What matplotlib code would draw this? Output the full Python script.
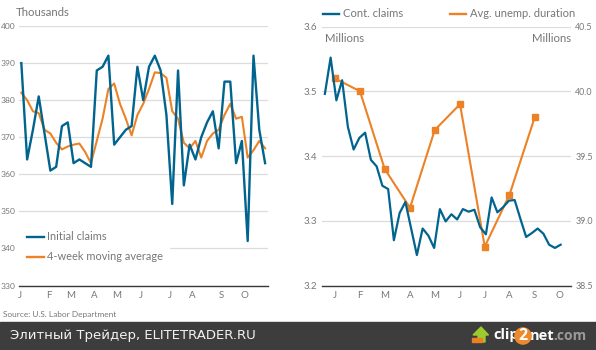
import matplotlib
matplotlib.use('Agg')
import matplotlib.pyplot as plt
from matplotlib.patches import Polygon, Rectangle

W, H = 596, 350

# left panel, weekly
initial_claims = [390, 364, 372, 381, 371, 361, 362, 373, 374, 363, 364, 363, 362, 388, 389,
                  392, 368, 370, 372, 373, 389, 380, 389, 392, 388, 376, 352, 388, 357, 368,
                  364, 370, 374, 377, 367, 385, 385, 363, 369, 342, 392, 372, 363]
moving_avg = [382, 380, 377, 376.5, 372, 371, 368.5, 366.7, 367.5, 368, 368.3, 366, 363, 369, 375,
              383, 384.5, 379, 375, 370.5, 376, 379, 383, 387.5, 387.3, 386, 377, 375, 368.5, 367,
              369, 364.5, 369, 371, 372, 376, 379, 375, 375.5, 364.5, 366.5, 369, 367]
left_yticks = [330, 340, 350, 360, 370, 380, 390, 400]
left_month_pos = [-0.3, 4.7, 8.5, 12.6, 16.5, 20.6, 25.6, 29.5, 34.5, 38.5]
left_months = ['J', 'F', 'M', 'A', 'M', 'J', 'J', 'A', 'S', 'O']

# right panel
cont_claims = [3.496, 3.552, 3.486, 3.517, 3.445, 3.41, 3.428, 3.436, 3.394, 3.384, 3.354,
               3.349, 3.27, 3.312, 3.329, 3.288, 3.247, 3.288, 3.277, 3.258, 3.318, 3.299,
               3.31, 3.302, 3.318, 3.314, 3.317, 3.29, 3.279, 3.336, 3.313, 3.321, 3.331,
               3.332, 3.303, 3.275, 3.281, 3.288, 3.28, 3.263, 3.258, 3.263]
duration = [40.1, 40.0, 39.4, 39.1, 39.7, 39.9, 38.8, 39.2, 39.8]
right_month_pos = [1.7, 6.1, 10.4, 14.8, 19.1, 23.5, 27.8, 32.1, 36.5, 40.8]
right_months = ['J', 'F', 'M', 'A', 'M', 'J', 'J', 'A', 'S', 'O']
cont_yticks = [3.2, 3.3, 3.4, 3.5, 3.6]
dur_yticks = [38.5, 39.0, 39.5, 40.0, 40.5]

BLUE = '#00648f'
ORANGE = '#ed8125'
GREY = '#77777a'
GRID = '#dcdcdc'

plt.rcParams['font.family'] = ['Lato', 'DejaVu Sans']

fig = plt.figure(figsize=(W / 100, H / 100), dpi=100)


def px_axes(x0, y0, x1, y1):
    # pixel box, y counted from the top
    return fig.add_axes([x0 / W, 1 - y1 / H, (x1 - x0) / W, (y1 - y0) / H])


def px_text(x, y, s, **kw):
    kw.setdefault('va', 'center')
    kw.setdefault('color', GREY)
    kw.setdefault('fontsize', 7.6)
    fig.text(x / W, 1 - y / H, s, **kw)


def px_line(x0, x1, y, color):
    fig.add_artist(plt.Line2D([x0 / W, x1 / W], [1 - y / H] * 2, color=color, lw=1.7))


def style(ax):
    for side in ['top', 'left', 'right']:
        ax.spines[side].set_visible(False)
    ax.spines['bottom'].set_color('#3a3a3a')
    ax.spines['bottom'].set_linewidth(1.0)
    ax.grid(axis='y', color=GRID, lw=0.9)
    ax.set_axisbelow(True)
    ax.tick_params(axis='both', length=0, labelsize=7.0, labelcolor=GREY)
    ax.tick_params(axis='x', pad=4)


# left panel
ax1 = px_axes(19, 26, 268, 285.5)
ax1.plot(range(len(moving_avg)), moving_avg, color=ORANGE, lw=1.5)
ax1.plot(range(len(initial_claims)), initial_claims, color=BLUE, lw=1.7)
ax1.set_xlim(-0.4, 42.5)
ax1.set_ylim(330, 400)
ax1.set_yticks(left_yticks)
ax1.set_xticks(left_month_pos)
ax1.set_xticklabels(left_months)
style(ax1)
ax1.tick_params(axis='y', pad=2.8, labelsize=6.1)
# white legend box hides the 340 gridline
fig.add_artist(Rectangle((19 / W, 1 - 266 / H), 150 / W, 40 / H, color='white', zorder=2))
for y, c, s in [(237, BLUE, 'Initial claims'), (257, ORANGE, '4-week moving average')]:
    px_line(27, 44, y, c)
    px_text(47, y - 0.5, s, fontsize=7.9, zorder=3)
px_text(16, 13, 'Thousands', fontsize=8.2)
px_text(3, 314, 'Source: U.S. Labor Department', fontsize=5.95)

# right panel
ax2 = px_axes(322, 26.5, 571, 285.5)
ax2.set_xlim(-0.5, 42.8)
ax2.set_ylim(3.2, 3.6)
ax2.set_yticks(cont_yticks)
ax2.set_xticks(right_month_pos)
ax2.set_xticklabels(right_months)
style(ax2)
ax2.tick_params(axis='y', pad=3.5)

ax3 = ax2.twinx()
ax3.set_ylim(38.5, 40.5)
ax3.set_yticks(dur_yticks)
ax3.set_yticklabels(['38.5', '39.0', '39.5', '40.0', '40.5'])
for side in ['top', 'left', 'right', 'bottom']:
    ax3.spines[side].set_visible(False)
ax3.tick_params(axis='y', length=0, labelsize=6.4, labelcolor=GREY, pad=3)
ax3.plot(right_month_pos[:len(duration)], duration, color=ORANGE, lw=1.5,
         marker='s', ms=4.2, zorder=2)
ax3.plot(range(len(cont_claims)), [(v - 3.2) * 5 + 38.5 for v in cont_claims],
         color=BLUE, lw=1.6, zorder=3)

px_line(323, 339, 14, BLUE)
px_text(343, 13.5, 'Cont. claims', fontsize=8.1)
px_line(450, 466, 14, ORANGE)
px_text(470, 13.5, 'Avg. unemp. duration', fontsize=8.0)
px_text(325, 38, 'Millions', fontsize=8.2)
px_text(571, 38, 'Millions', fontsize=8.2, ha='right')

# footer band
fig.add_artist(Rectangle((0, 0), 1, 28 / H, color='#3d3d3d', zorder=4))
px_text(10, 335.5, 'Элитный Трейдер, ELITETRADER.RU', color='#f2f2f2', fontsize=9.55,
        family='DejaVu Sans', zorder=5)
px_text(493, 335.5, 'clip', color='white', fontsize=10.5, fontweight='bold',
        family='Open Sans', zorder=5)
px_text(523, 336, '2', color='white', fontsize=11.5, fontweight='bold', ha='center',
        family='Open Sans', zorder=6,
        bbox=dict(boxstyle='circle,pad=0.05', fc='#ee8a2b', ec='none'))
px_text(530, 335.5, 'net', color='white', fontsize=10.5, fontweight='bold',
        family='Open Sans', zorder=5)
px_text(553, 335.5, '.com', color='#9a9a9a', fontsize=10, fontweight='bold',
        family='Open Sans', zorder=5)
# arrow icon of the logo
arrow = [(473, 335), (481, 327), (488.5, 335), (485, 335), (485, 342), (478, 342), (478, 335)]
fig.add_artist(Polygon([(x / W, 1 - y / H) for x, y in arrow], color='#9ccb2f', zorder=5))
fig.add_artist(Rectangle((472 / W, 1 - 342 / H), 10 / W, 4 / H, color='#ee7f22', zorder=6))

fig.savefig('out.png', dpi=100)
